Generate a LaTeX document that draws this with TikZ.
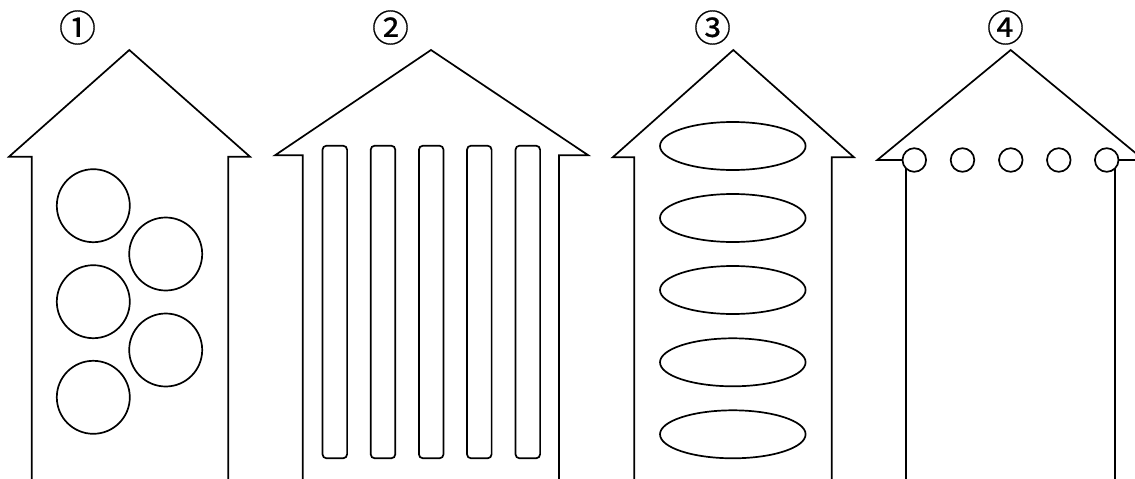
\documentclass[tikz,border=0pt]{standalone}
\usepackage{fontspec}
\newfontfamily\cjk[FakeBold=0.4]{Noto Sans CJK JP}
\begin{document}
\begin{tikzpicture}[x=1pt,y=-1pt,
  outline/.style={line width=1.7pt,line join=miter},
  hole/.style={line width=1.7pt,fill=white},
  lbl/.style={font=\cjk\fontsize{37}{37}\selectfont,inner sep=0pt}]
\useasboundingbox (0,0) rectangle (1135,479);
\clip (0,0) rectangle (1135,479);
% shape 1
\draw[outline] (31.7,481) -- (31.7,156.7) -- (9,156.7) -- (129.3,50) -- (250,156.7) -- (228.3,156.7) -- (228.3,481);
\foreach \x/\y [count=\i] in {93.3/205.7,165.7/254,93.3/301.7,165.7/350,93.3/397.3}
  \draw[hole] (\x,\y) circle (36.5);
\node[lbl] (l1) at (77.5,27.5) {①};
% shape 2
\draw[outline] (302.7,481) -- (302.7,155.3) -- (275,155.3) -- (431,50) -- (588.3,155.3) -- (559,155.3) -- (559,481);
\foreach \x in {334.8,383,431.2,479.3,527.8}
  \draw[hole,rounded corners=4pt] (\x-12.3,145.7) rectangle (\x+12.3,458.3);
\node[lbl] (l2) at (390.5,27.5) {②};
% shape 3
\draw[outline] (634.3,481) -- (634.3,157.3) -- (612.7,157.3) -- (733.3,50) -- (854,157.3) -- (831.7,157.3) -- (831.7,481);
\foreach \y in {146,218,290,362.3,434.3}
  \draw[hole] (732.8,\y) ellipse (72.8 and 24);
\node[lbl] (l3) at (712.5,27.5) {③};
% shape 4
\draw[outline] (906,481) -- (906,160) -- (877.3,160) -- (1010.7,50) -- (1144,160) -- (1115,160) -- (1115,481);
\foreach \x in {914.3,962.5,1010.8,1058.8,1106.7}
  \draw[hole] (\x,160) circle (11.8);
\node[lbl] (l4) at (1005.5,27.5) {④};
\end{tikzpicture}
\end{document}
